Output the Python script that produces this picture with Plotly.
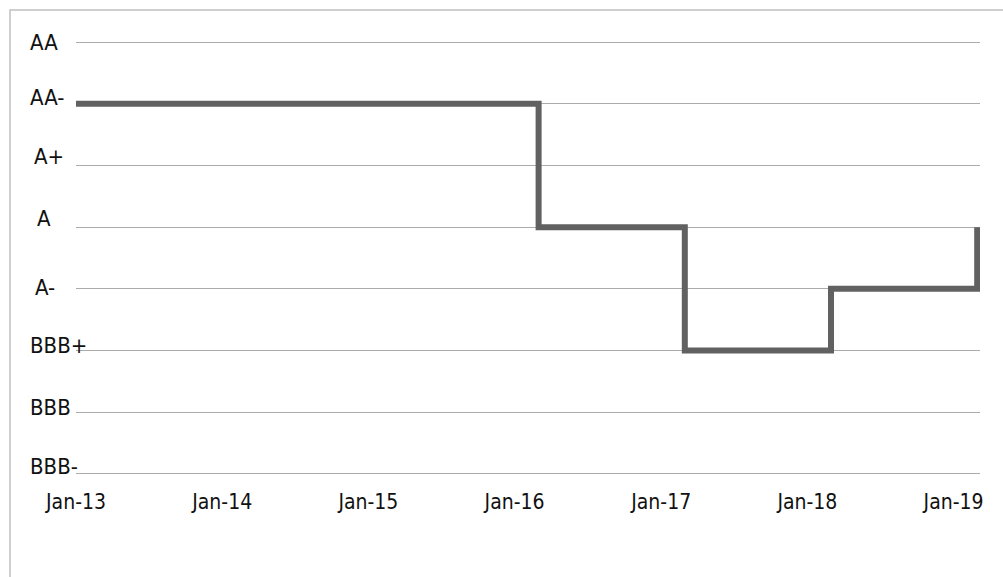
import plotly.graph_objects as go

# ---- data ----
rating_labels = ["BBB-", "BBB", "BBB+", "A-", "A", "A+", "AA-", "AA"]
dates = ["2013-01-01", "2016-03-01", "2017-03-01", "2018-03-01", "2019-03-01"]
ratings = ["AA-", "A", "BBB+", "A-", "A"]
x_tick_dates = ["2013-01-01", "2014-01-01", "2015-01-01", "2016-01-01",
                "2017-01-01", "2018-01-01", "2019-01-01"]
x_tick_text = ["Jan-13", "Jan-14", "Jan-15", "Jan-16", "Jan-17", "Jan-18", "Jan-19"]
x_range = ["2013-01-01", "2019-03-08"]

# ---- styling ----
W, H = 1003, 577
ML, MR, MT, MB = 76, 23, 39, 100
FONT = "Liberation Sans Narrow, Arial Narrow, DejaVu Sans Condensed, sans-serif"
label_xshift = {"AA": 0, "AA-": 0, "A+": 4, "A": 7, "A-": 5, "BBB+": 0, "BBB": 0, "BBB-": 0}
label_yshift = {"AA": 0, "AA-": 6, "A+": 9, "A": 9, "A-": 1, "BBB+": 5, "BBB": 5, "BBB-": 7}

y_vals = [rating_labels.index(r) for r in ratings]

fig = go.Figure()
fig.add_trace(go.Scatter(
    x=dates, y=y_vals, mode="lines", line=dict(color="#616161", width=6, shape="hv"),
    hoverinfo="skip", showlegend=False,
))

pw = W - ML - MR
ph = H - MT - MB
annotations = []
for i, lab in enumerate(rating_labels):
    annotations.append(dict(
        x=0, xref="paper", y=i, yref="y", text=lab, showarrow=False,
        xanchor="left", yanchor="middle",
        xshift=(28 - ML) + label_xshift[lab], yshift=label_yshift[lab],
        font=dict(family=FONT, size=22, color="#111111"),
    ))

fig.update_layout(
    width=W, height=H,
    margin=dict(l=ML, r=MR, t=MT, b=MB),
    paper_bgcolor="white", plot_bgcolor="white",
    annotations=annotations,
    shapes=[dict(type="rect", xref="paper", yref="paper",
                 x0=(10 - ML) / pw, x1=(W + 20 - ML) / pw,
                 y0=-(MB + 20) / ph, y1=(H - MB - 10) / ph,
                 line=dict(color="#c0c0c0", width=1.5), layer="below")],
    xaxis=dict(type="date", range=x_range, tickvals=x_tick_dates, ticktext=x_tick_text,
               showgrid=False, zeroline=False, showline=False, ticks="",
               ticklabelstandoff=10,
               tickfont=dict(family=FONT, size=21, color="#111111")),
    yaxis=dict(range=[-0.05, len(rating_labels) - 1 + 0.05],
               tickvals=list(range(len(rating_labels))), showticklabels=False,
               showgrid=True, gridcolor="#ababab", gridwidth=1, zeroline=False, ticks=""),
)

fig.write_html("out.html")
